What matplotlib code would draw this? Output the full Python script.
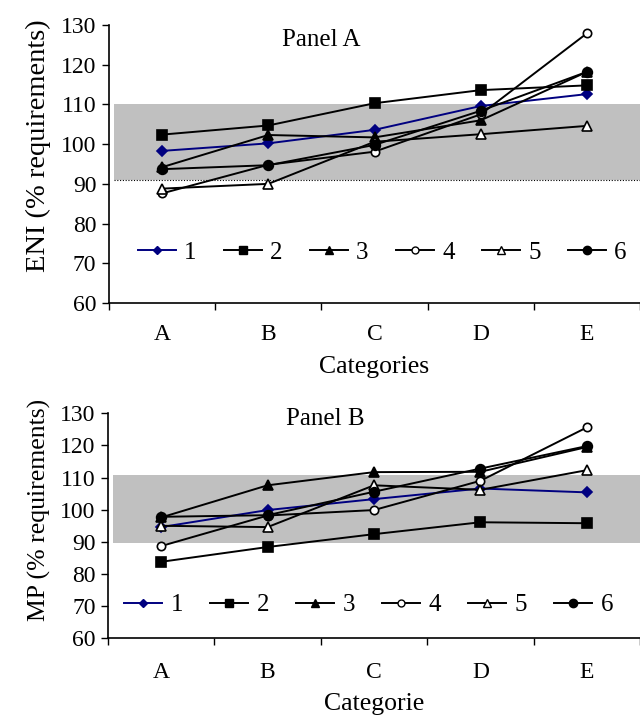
import matplotlib
matplotlib.use("Agg")
import matplotlib.pyplot as plt
from matplotlib.lines import Line2D

categories = ["A", "B", "C", "D", "E"]
series_names = ["1", "2", "3", "4", "5", "6"]

# Panel A (ENI)
eni_1 = [98.3, 100.2, 103.6, 109.6, 112.6]
eni_2 = [102.4, 104.7, 110.3, 113.6, 114.8]
eni_3 = [94.2, 102.3, 101.7, 106.0, 118.2]
eni_4 = [87.6, 94.8, 98.1, 107.5, 127.9]
eni_5 = [88.8, 90.0, 100.6, 102.5, 104.6]
eni_6 = [93.7, 94.7, 99.8, 108.4, 118.2]

# Panel B (MP)
mp_1 = [94.6, 99.9, 103.3, 106.6, 105.4]
mp_2 = [83.8, 88.4, 92.4, 96.1, 95.8]
mp_3 = [97.6, 107.6, 111.7, 111.8, 119.5]
mp_4 = [88.7, 98.2, 99.9, 109.0, 125.6]
mp_5 = [95.0, 94.6, 107.6, 106.2, 112.3]
mp_6 = [97.8, 98.3, 105.6, 112.8, 119.8]

eni_band = (91, 110)
mp_band = (89.5, 110.8)

plt.rcParams['font.family'] = ['Liberation Serif', 'DejaVu Serif']

styles = [
    dict(color="#000080", marker="D", mfc="#000080", ms=5.5),
    dict(color="black", marker="s", mfc="black", ms=6.5),
    dict(color="black", marker="^", mfc="black", ms=6.5),
    dict(color="black", marker="o", mfc="white", ms=6),
    dict(color="black", marker="^", mfc="white", ms=6.5),
    dict(color="black", marker="o", mfc="black", ms=7),
]

fig = plt.figure(figsize=(6.4, 7.15), dpi=100)
axA = fig.add_axes([109/640, 1-303/715, 531/640, 278/715])
axB = fig.add_axes([108/640, 1-638.3/715, 532/640, 225/715])

def style_axes(ax, band, ylabel, xlabel, panel, leg_y, leg_x, dotted,
               tickpad, labelpad, ylab_size, ylab_x, ylab_y):
    ax.axhspan(band[0], band[1], xmin=0.01, xmax=1, color="#C0C0C0", lw=0, zorder=0)
    if dotted:
        ax.axhline(band[0], xmin=0.01, xmax=1, color="black", ls=(0, (1, 1.5)), lw=0.8, zorder=1)
    xs = list(range(len(categories)))
    for vals, st, name in zip(panel, styles, series_names):
        ax.plot(xs, vals, color=st["color"], lw=1.4, marker=st["marker"],
                mfc=st["mfc"], mec=st["color"], mew=1.2, ms=st["ms"], label=name, zorder=3)
    ax.set_xlim(-0.5, len(categories) - 0.5)
    ax.set_ylim(60, 130)
    ax.set_yticks(range(60, 131, 10))
    ax.set_xticks([i - 0.5 for i in range(len(categories) + 1)])
    ax.set_xticklabels([])
    ax.set_xticks(xs, minor=True)
    ax.set_xticklabels(categories, minor=True)
    ax.tick_params(axis="x", which="major", direction="out", length=5, width=1)
    ax.tick_params(axis="x", which="minor", length=0, pad=tickpad, labelsize=17)
    ax.tick_params(axis="y", direction="out", length=5, width=1, labelsize=17, pad=4)
    for s in ["top", "right"]:
        ax.spines[s].set_visible(False)
    for s in ["left", "bottom"]:
        ax.spines[s].set_linewidth(1.2)
    ax.set_ylabel(ylabel, fontsize=ylab_size)
    ax.yaxis.set_label_coords(ylab_x, ylab_y)
    ax.set_xlabel(xlabel, fontsize=18.5, labelpad=labelpad)
    handles = [Line2D([], [], color=st["color"], lw=1.4, marker=st["marker"], mfc=st["mfc"],
                      mec=st["color"], mew=1.0, ms=st["ms"] - 1) for st in styles]
    ax.legend(handles, series_names, loc="center", bbox_to_anchor=(leg_x, leg_y), ncol=6,
              frameon=False, fontsize=18, handlelength=1.52, handletextpad=0.32,
              columnspacing=1.1, borderaxespad=0)
    return ax

style_axes(axA, eni_band, "ENI (% requirements)", "Categories",
           [eni_1, eni_2, eni_3, eni_4, eni_5, eni_6], 0.18, 0.515, True,
           15, 8, 20.5, -0.11, 0.565)
axA.text(0.40, 0.946, "Panel A", transform=axA.transAxes, ha="center", va="center", fontsize=18)

style_axes(axB, mp_band, "MP (% requirements)", "Categorie",
           [mp_1, mp_2, mp_3, mp_4, mp_5, mp_6], 0.148, 0.49, False,
           17, 7.5, 18.5, -0.108, 0.57)
axB.text(0.408, 0.975, "Panel B", transform=axB.transAxes, ha="center", va="center", fontsize=18)

fig.savefig("out.png", dpi=100)
